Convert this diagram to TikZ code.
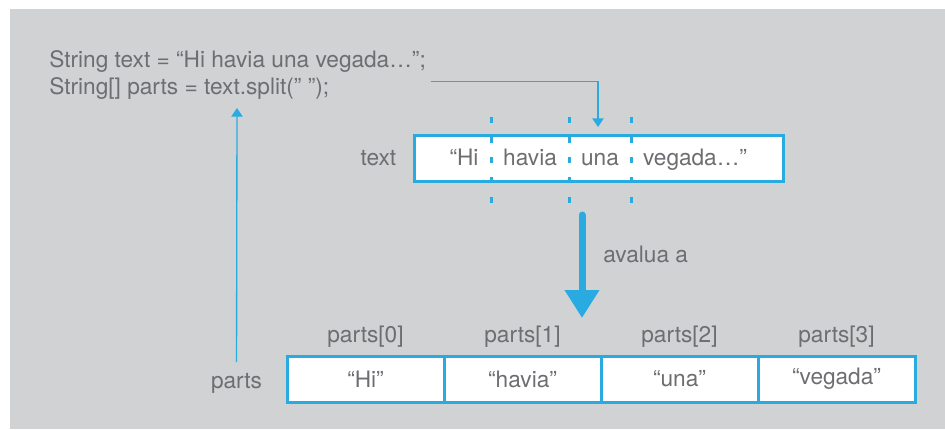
\documentclass[tikz,border=0pt]{standalone}
\usepackage{fontspec}
\setmainfont{TeX Gyre Heros}
\usepackage{tikz}
\usetikzlibrary{arrows.meta, positioning}
\definecolor{bg}{HTML}{D1D2D4}
\definecolor{ink}{HTML}{6D6E71}
\definecolor{cyanline}{HTML}{29ABE2}
\tikzstyle{word} = [text=ink, font=\fontsize{17}{20}\selectfont, inner sep=0pt]
\tikzstyle{strbox} = [rectangle, draw=cyanline, fill=white, line width=2.25pt, minimum width=276.75pt, minimum height=34.5pt]
\tikzstyle{cell} = [rectangle, draw=cyanline, fill=white, line width=2.25pt, outer sep=0pt, minimum width=117.75pt, minimum height=34.5pt, text=ink, font=\fontsize{17}{20}\selectfont]
\tikzstyle{arrow} = [cyanline, line width=1pt, -{Triangle[width=8.5pt,length=6.5pt]}]
\tikzstyle{bigarrow} = [cyanline, line width=5.25pt, line cap=round, -{Triangle[width=24.75pt,length=21pt]}]
\tikzstyle{divider} = [cyanline, line width=2.25pt, dash pattern=on 4.5pt off 10.5pt]

\begin{document}
\begin{tikzpicture}[x=0.75pt, y=-0.75pt]
%----------------------------------------------------------------------------
% Background
\useasboundingbox (0,0) rectangle (945,429);
\fill[white] (0,0) rectangle (945,429);
\fill[bg] (10,9) rectangle (945,429);

%----------------------------------------------------------------------------
% Code lines
\node (codeLine1) [word, anchor=base west] at (49,67) {String text = “Hi havia una vegada…”;};
\node (codeLine2) [word, anchor=base west] at (49,94) {String[] parts = text.split(” ”);};

%----------------------------------------------------------------------------
% The string and its split points
\node (textBox) [strbox] at (598.5,158) {};
\node (textName) [word, left=12pt of textBox] {text};

\foreach \x in {491,569,631}
  \draw [divider] (\x,117) -- (\x,203);

\node (wordHi) [word, anchor=base] at (464,165) {“Hi};
\node (wordHavia) [word, anchor=base] at (530,165) {havia};
\node (wordUna) [word, anchor=base] at (600,165) {una};
\node (wordVegada) [word, anchor=base] at (695,165) {vegada…”};

%----------------------------------------------------------------------------
% The resulting array
\node (cell0) [cell] at (365.5,379) {“Hi”};
\node (cell1) [cell, right=0pt of cell0] {“havia”};
\node (cell2) [cell, right=0pt of cell1] {“una”};
\node (cell3) [cell, right=0pt of cell2] {“vegada”};

\node (index0) [word, above=6pt of cell0] {parts[0]};
\node (index1) [word, above=6pt of cell1] {parts[1]};
\node (index2) [word, above=6pt of cell2] {parts[2]};
\node (index3) [word, above=6pt of cell3] {parts[3]};

\node (partsName) [word, left=18.5pt of cell0, yshift=-3pt] {parts};

%----------------------------------------------------------------------------
% Arrows
\coordinate (splitIn) at (598,127);
\coordinate (partsUp) at (237,108);
\coordinate (evalTop) at (582,215);
\coordinate (evalTip) at (582,318);

\draw [arrow] ([xshift=4pt,yshift=-7pt]codeLine1.south east) -| (splitIn);
\draw [arrow] ([yshift=8pt]partsName.north) -- (partsUp);
\draw [bigarrow] (evalTop) -- (evalTip);
\node (evalLabel) [word, anchor=base west] at (603,262) {avalua a};
\end{tikzpicture}
\end{document}
